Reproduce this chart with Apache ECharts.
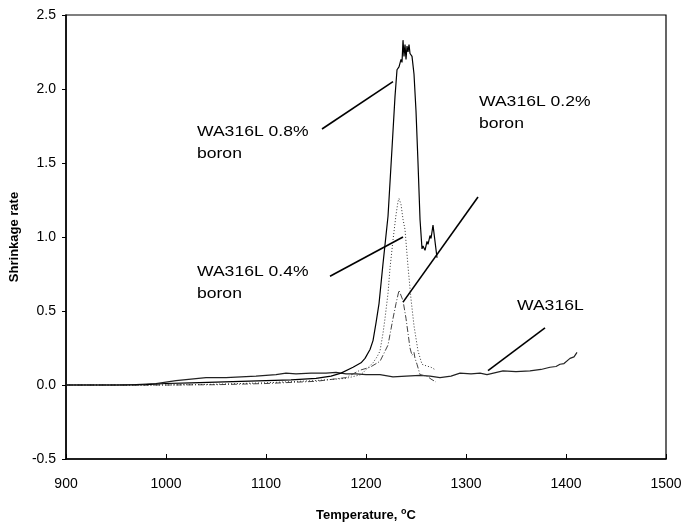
<!DOCTYPE html>
<html>
<head>
<meta charset="utf-8">
<script src="https://cdn.jsdelivr.net/npm/echarts@6/dist/echarts.min.js"></script>
<style>html,body{margin:0;padding:0;background:#fff}#c{width:691px;height:527px}</style>
</head>
<body>
<div id="c"></div>
<script>
// WA316L 0.8% boron (solid)
var t08 = [900, 960, 980, 1000, 1025, 1050, 1075, 1100, 1125, 1150, 1165, 1175, 1187, 1195, 1199, 1204, 1207, 1210, 1213, 1217, 1222, 1226, 1229, 1231, 1233, 1235, 1236, 1237, 1238, 1239, 1240, 1241, 1242, 1243, 1244, 1246, 1248, 1250, 1252, 1254, 1256, 1257, 1259, 1261, 1262, 1264, 1265, 1267, 1269, 1271];
var v08 = [0, 0, 0.003, 0.01, 0.015, 0.02, 0.025, 0.03, 0.035, 0.045, 0.06, 0.08, 0.12, 0.15, 0.18, 0.24, 0.3, 0.42, 0.55, 0.82, 1.14, 1.6, 1.95, 2.13, 2.15, 2.2, 2.18, 2.33, 2.22, 2.3, 2.2, 2.29, 2.25, 2.3, 2.24, 2.22, 2.1, 1.85, 1.5, 1.12, 0.92, 0.94, 0.91, 0.97, 0.95, 1.01, 0.99, 1.08, 1.07, 0.86];
// WA316L 0.4% boron (dotted)
var t04 = [900, 950, 1000, 1050, 1100, 1150, 1180, 1195, 1204, 1207, 1211, 1214, 1217, 1219, 1222, 1224, 1227, 1230, 1232, 1233, 1235, 1237, 1239, 1242, 1245, 1248, 1252, 1256, 1260, 1265, 1270];
var v04 = [0, 0, 0, 0.005, 0.015, 0.03, 0.045, 0.07, 0.13, 0.15, 0.19, 0.23, 0.35, 0.45, 0.62, 0.79, 0.98, 1.15, 1.24, 1.26, 1.22, 1.12, 1.05, 0.8, 0.58, 0.4, 0.23, 0.14, 0.13, 0.12, 0.1];
// WA316L 0.2% boron (dash-dot)
var t02 = [900, 950, 1000, 1050, 1100, 1150, 1180, 1194, 1204, 1214, 1222, 1227, 1230, 1233, 1237, 1240, 1244, 1246, 1248, 1249, 1251, 1254, 1261, 1265, 1270];
var v02 = [0, 0, 0, 0.002, 0.01, 0.025, 0.05, 0.1, 0.12, 0.16, 0.27, 0.45, 0.55, 0.64, 0.57, 0.45, 0.25, 0.2, 0.22, 0.18, 0.14, 0.07, 0.06, 0.04, 0.02];
// WA316L (solid)
var t00 = [900, 950, 970, 990, 1000, 1010, 1025, 1040, 1060, 1075, 1090, 1100, 1110, 1120, 1130, 1145, 1160, 1170, 1180, 1190, 1200, 1214, 1227, 1240, 1254, 1264, 1274, 1285, 1294, 1305, 1314, 1321, 1337, 1350, 1364, 1375, 1384, 1390, 1394, 1398, 1404, 1408, 1411];
var v00 = [0, 0, 0.002, 0.01, 0.02, 0.03, 0.04, 0.05, 0.05, 0.055, 0.06, 0.065, 0.07, 0.08, 0.075, 0.08, 0.08, 0.085, 0.075, 0.075, 0.07, 0.07, 0.055, 0.06, 0.065, 0.06, 0.05, 0.06, 0.08, 0.075, 0.08, 0.07, 0.095, 0.09, 0.095, 0.105, 0.12, 0.125, 0.14, 0.145, 0.18, 0.19, 0.22];

var xTicks = [900, 1000, 1100, 1200, 1300, 1400, 1500];
var yTicks = [-0.5, 0.0, 0.5, 1.0, 1.5, 2.0, 2.5];

// leader lines (data coordinates)
var leaders = [
  [[1156, 1.73], [1227, 2.05]],
  [[1312, 1.27], [1237, 0.56]],
  [[1164, 0.735], [1237, 1.0]],
  [[1379, 0.386], [1322, 0.097]]
];

function pairs(t, v) { return t.map(function (x, i) { return [x, v[i]]; }); }

var chart = echarts.init(document.getElementById('c'), null, {renderer: 'canvas'});
var font = '"Liberation Sans", Arial, sans-serif';
var lineBase = {type: 'line', showSymbol: false, symbol: 'none', animation: false, silent: true};

function label(x, y, txt) {
  return {type: 'text', x: x, y: y, scaleX: 1.17, silent: true,
    style: {text: txt, font: '15px ' + font, fill: '#000', lineHeight: 22, textVerticalAlign: 'top', verticalAlign: 'top'}};
}

chart.setOption({
  backgroundColor: '#fff',
  animation: false,
  grid: {left: 65, right: 25, top: 15, bottom: 64, show: true, borderColor: '#000', borderWidth: 1.2, backgroundColor: 'transparent'},
  xAxis: {
    type: 'value', min: xTicks[0], max: xTicks[xTicks.length - 1], interval: 100,
    axisLine: {onZero: false, lineStyle: {color: '#000', width: 1.5}},
    axisTick: {inside: true, length: 5, lineStyle: {color: '#000'}},
    splitLine: {show: false},
    axisLabel: {color: '#000', fontFamily: font, fontSize: 14, margin: 18, formatter: function (v) { return String(v); }},
    name: 'Temperature, {sup|o}C', nameLocation: 'middle', nameGap: 48,
    nameTextStyle: {color: '#000', fontFamily: font, fontSize: 13, fontWeight: 'bold',
      rich: {sup: {fontSize: 9, fontWeight: 'bold', fontFamily: font, verticalAlign: 'top', padding: [0, 0, 8, 0], color: '#000'}}}
  },
  yAxis: {
    type: 'value', min: yTicks[0], max: yTicks[yTicks.length - 1], interval: 0.5,
    axisLine: {onZero: false, lineStyle: {color: '#000', width: 1.5}},
    axisTick: {inside: false, length: 4, lineStyle: {color: '#000'}},
    splitLine: {show: false},
    axisLabel: {color: '#000', fontFamily: font, fontSize: 14, margin: 10, formatter: function (v) { return v.toFixed(1); }},
    name: 'Shrinkage rate', nameLocation: 'middle', nameGap: 40,
    nameTextStyle: {color: '#000', fontFamily: font, fontSize: 13, fontWeight: 'bold'}
  },
  series: [
    Object.assign({}, lineBase, {name: 'WA316L', data: pairs(t00, v00), lineStyle: {color: '#222', width: 1.2},
      markLine: {silent: true, symbol: ['none', 'none'], animation: false, label: {show: false},
        lineStyle: {color: '#000', width: 1.6, type: 'solid'},
        data: leaders.map(function (l) { return [{coord: l[0]}, {coord: l[1]}]; })}}),
    Object.assign({}, lineBase, {name: 'WA316L 0.2% boron', data: pairs(t02, v02), lineStyle: {color: '#444', width: 1, type: [6, 2, 1, 2]}}),
    Object.assign({}, lineBase, {name: 'WA316L 0.4% boron', data: pairs(t04, v04), lineStyle: {color: '#333', width: 1, type: [1, 2]}}),
    Object.assign({}, lineBase, {name: 'WA316L 0.8% boron', data: pairs(t08, v08), lineStyle: {color: '#000', width: 1.2}})
  ],
  graphic: [
    label(197, 121, 'WA316L 0.8%\nboron'),
    label(479, 91, 'WA316L 0.2%\nboron'),
    label(197, 261, 'WA316L 0.4%\nboron'),
    label(517, 295, 'WA316L')
  ]
});
</script>
</body>
</html>
